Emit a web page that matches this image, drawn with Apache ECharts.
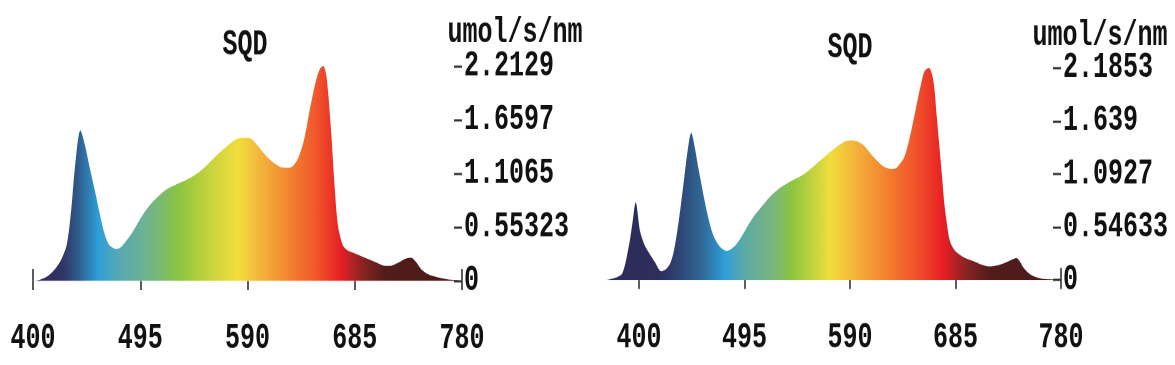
<!DOCTYPE html>
<html>
<head>
<meta charset="utf-8">
<script src="https://cdn.jsdelivr.net/npm/echarts@6/dist/echarts.min.js"></script>
<style>
  html, body { margin: 0; padding: 0; background: #fff; overflow: hidden; }
  #wrap { width: 1175px; height: 365px; overflow: hidden; position: relative; }
  #main { width: 1175px; transform-origin: 0 0; }
</style>
</head>
<body>
<div id="wrap"><div id="main"></div></div>
<script>
// ---------- data ----------
const titles = ['SQD', 'SQD'];
const unitLabel = 'umol/s/nm';
const xTickValues = [400, 495, 590, 685, 780];

const leftWavelengths = [400,405,410,415,420,425,430,434,437,442,446,450,455,459,463,467,471,474,478,483,488,495,502,510,518,526,534,542,550,558,566,574,580,586,592,597,602,608,614,620,625,630,635,640,645,650,654,657,660,664,667,670,674,678,684,690,698,706,712,718,724,730,735,739,744,750,758,766,774,780];
const leftValues = [0.00,0.01,0.03,0.07,0.13,0.22,0.38,0.75,1.15,1.55,1.40,1.18,0.92,0.70,0.50,0.38,0.34,0.33,0.35,0.42,0.50,0.64,0.76,0.86,0.94,0.99,1.03,1.08,1.15,1.24,1.33,1.41,1.46,1.475,1.47,1.42,1.35,1.27,1.21,1.17,1.165,1.18,1.27,1.45,1.75,2.03,2.18,2.2129,2.10,1.55,1.00,0.58,0.38,0.32,0.29,0.26,0.22,0.18,0.155,0.16,0.19,0.23,0.24,0.20,0.12,0.07,0.04,0.02,0.01,0.00];
const leftYTicks = [0, 0.55323, 1.1065, 1.6597, 2.2129];

const rightWavelengths = [370,378,385,391,394,397,401,405,409,414,420,424,428,431,434,438,441,444,447,450,453,456,459,462,466,470,474,479,483,487,492,497,503,510,518,527,537,547,555,563,571,580,586,591,596,601,606,611,617,622,627,631,635,639,644,649,653,657,661,665,668,670,673,675,678,680,684,689,695,702,708,715,722,728,734,740,743,746,750,755,762,771,780];
const rightValues = [0.00,0.02,0.07,0.36,0.58,0.80,0.50,0.36,0.28,0.19,0.09,0.11,0.17,0.28,0.47,0.80,1.08,1.35,1.516,1.38,1.18,1.00,0.82,0.66,0.49,0.39,0.33,0.30,0.32,0.36,0.44,0.54,0.65,0.75,0.86,0.95,1.02,1.08,1.15,1.23,1.31,1.39,1.43,1.44,1.43,1.40,1.34,1.27,1.20,1.16,1.145,1.15,1.20,1.27,1.48,1.75,1.97,2.15,2.1853,2.06,1.70,1.44,1.05,0.78,0.52,0.40,0.31,0.26,0.22,0.19,0.16,0.14,0.15,0.17,0.20,0.225,0.19,0.13,0.08,0.04,0.015,0.007,0.00];
const rightYTicks = [0, 0.54633, 1.0927, 1.639, 2.1853];

// ---------- layout (vertical stretch of the whole drawing) ----------
const S = 1.45;
const Y = v => v / S;
const main = document.getElementById('main');
main.style.height = (365 / S) + 'px';
main.style.transform = 'scaleY(' + S + ')';

const FONT = 'Liberation Mono';
const FS = 25;
const txt = { fontFamily: FONT, fontWeight: 'bold', fontSize: FS, color: '#111' };

function zip(xs, ys) { return xs.map((x, i) => [x, ys[i]]); }

const leftStops = [
  [0.000, '#2c2d5b'], [0.068, '#2f3463'], [0.105, '#2f5c8c'], [0.152, '#2e9fd9'],
  [0.198, '#56a9b5'], [0.273, '#72b48a'], [0.343, '#8dc63f'], [0.413, '#c8d43e'],
  [0.478, '#f1de3d'], [0.534, '#f4b23a'], [0.599, '#f3822f'], [0.664, '#f0542a'],
  [0.716, '#e81f25'], [0.767, '#8b2424'], [0.821, '#521c1c'], [1.000, '#4a1a1a']
];
const rightStops = [
  [0.000, '#2d2b5a'], [0.124, '#2e2f5e'], [0.170, '#2e4a7a'], [0.214, '#2f6a98'],
  [0.262, '#2ea0da'], [0.301, '#5aaaa8'], [0.367, '#7ab57e'], [0.410, '#8dc63f'],
  [0.465, '#cfd73e'], [0.493, '#f1de3d'], [0.550, '#f4b23a'], [0.616, '#f3822f'],
  [0.681, '#f0542a'], [0.742, '#e81f25'], [0.790, '#8b2424'], [0.845, '#521c1c'],
  [1.000, '#4a1a1a']
];
function grad(stops) {
  return new echarts.graphic.LinearGradient(0, 0, 1, 0,
    stops.map(s => ({ offset: s[0], color: s[1] })));
}

function xAxisMain(gi, min) {
  return {
    gridIndex: gi, type: 'value', min: min, max: 780,
    axisLine: { show: false }, splitLine: { show: false },
    axisTick: { show: true, customValues: xTickValues, length: Y(9), lineStyle: { color: '#333', width: 1.6 } },
    axisLabel: { show: true, customValues: xTickValues, margin: Y(40) , ...txt }
  };
}
function xAxisEnds(gi, min, vals) {
  return {
    gridIndex: gi, type: 'value', min: min, max: 780, position: 'bottom',
    axisLine: { show: false }, splitLine: { show: false },
    axisTick: { show: true, inside: true, customValues: vals, length: Y(12), lineStyle: { color: '#333', width: 1.6 } },
    axisLabel: { show: false }
  };
}
function yAxisR(gi, ticks) {
  return {
    gridIndex: gi, type: 'value', position: 'right', min: 0, max: ticks[ticks.length - 1],
    axisLine: { show: false }, splitLine: { show: false },
    axisTick: { show: true, inside: true, customValues: ticks, length: 8, lineStyle: { color: '#333', width: Y(2.2) } },
    axisLabel: { show: true, customValues: ticks, margin: 2, formatter: v => String(v), ...txt }
  };
}

const option = {
  animation: false,
  backgroundColor: '#fff',
  title: [
    { text: titles[0], left: 245, top: Y(45) - FS / 2, textAlign: 'center', padding: 0, textStyle: { ...txt } },
    { text: titles[1], left: 850, top: Y(48) - FS / 2, textAlign: 'center', padding: 0, textStyle: { ...txt } },
    { text: unitLabel, left: 515, top: Y(33) - FS / 2, textAlign: 'center', padding: 0, textStyle: { ...txt } },
    { text: unitLabel, left: 1100, top: Y(36) - FS / 2, textAlign: 'center', padding: 0, textStyle: { ...txt } }
  ],
  grid: [
    { left: 33, width: 429, top: Y(66), height: Y(281) - Y(66) },
    { left: 605.7, width: 455.3, top: Y(68), height: Y(280) - Y(68) }
  ],
  xAxis: [
    xAxisMain(0, 400), xAxisMain(1, 370),
    xAxisEnds(0, 400, [400, 780]), xAxisEnds(1, 370, [780])
  ],
  yAxis: [yAxisR(0, leftYTicks), yAxisR(1, rightYTicks)],
  series: [
    {
      type: 'line', xAxisIndex: 0, yAxisIndex: 0, data: zip(leftWavelengths, leftValues),
      smooth: 0.3, showSymbol: false, lineStyle: { width: 0 }, areaStyle: { color: grad(leftStops), opacity: 1 }
    },
    {
      type: 'line', xAxisIndex: 1, yAxisIndex: 1, data: zip(rightWavelengths, rightValues),
      smooth: 0.3, showSymbol: false, lineStyle: { width: 0 }, areaStyle: { color: grad(rightStops), opacity: 1 }
    }
  ]
};

const chart = echarts.init(main, null, { renderer: 'canvas', devicePixelRatio: 2 });
chart.setOption(option);
</script>
</body>
</html>
